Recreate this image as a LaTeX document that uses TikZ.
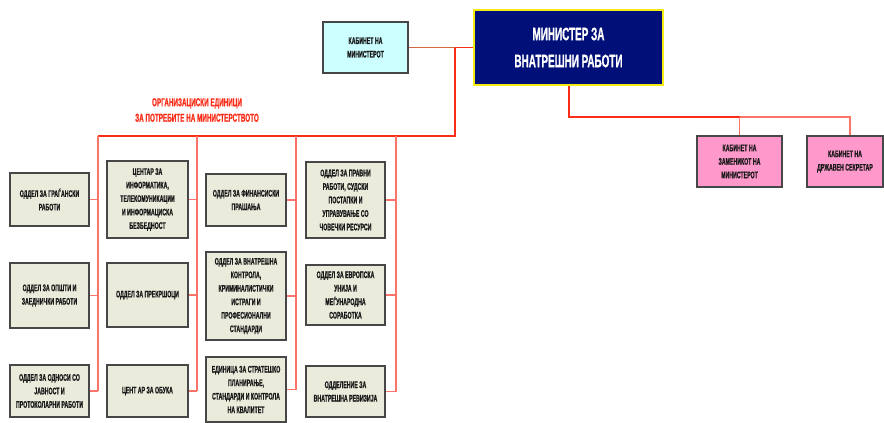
\documentclass[tikz,border=0pt]{standalone}
\usepackage{fontspec}
\newfontfamily\narrowfont{Liberation Sans}[FakeStretch=0.55,FakeBold=0.8]
\definecolor{unitfill}{RGB}{235,235,220}
\definecolor{cabfill}{RGB}{204,255,255}
\definecolor{depfill}{RGB}{255,153,204}
\definecolor{minfill}{RGB}{0,16,120}
\definecolor{minedge}{RGB}{245,235,20}
\definecolor{busred}{RGB}{250,45,25}
\definecolor{linkred}{RGB}{252,115,105}
\definecolor{cabline}{RGB}{210,105,70}
\tikzset{
  unit/.style={draw=black!72, line width=1.5pt, fill=unitfill, align=center,
    inner sep=1pt, text=black!90,
    font=\narrowfont\bfseries\fontsize{9.5}{13.5}\selectfont},
  bus/.style={draw=busred, line width=1.6pt},
  link/.style={draw=linkred, line width=1.1pt},
}

\begin{document}
\begin{tikzpicture}[x=1pt,y=-1pt]
  \useasboundingbox (0,0) rectangle (884,423);

  % Top of the chart
  \node[draw=minedge, line width=2.2pt, fill=minfill, text=white, align=center,
    minimum width=189pt, minimum height=75pt,
    font=\narrowfont\bfseries\fontsize{18}{27}\selectfont] (min) at (568.5,47.5)
    {МИНИСТЕР ЗА\\ВНАТРЕШНИ РАБОТИ};
  \node[unit, fill=cabfill, minimum width=85pt, minimum height=51pt] (cab) at (365.5,47.5)
    {КАБИНЕТ НА\\МИНИСТЕРОТ};
  \node[unit, fill=depfill, minimum width=85pt, minimum height=51pt] (dep) at (739.5,161.5)
    {КАБИНЕТ НА\\ЗАМЕНИКОТ НА\\МИНИСТЕРОТ};
  \node[unit, fill=depfill, minimum width=76pt, minimum height=51pt] (sec) at (845,161.5)
    {КАБИНЕТ НА\\ДРЖАВЕН СЕКРЕТАР};

  \node[text=busred, align=center,
    font=\narrowfont\bfseries\fontsize{11.5}{15.5}\selectfont] (title) at (197,110)
    {ОРГАНИЗАЦИСКИ ЕДИНИЦИ\\ЗА ПОТРЕБИТЕ НА МИНИСТЕРСТВОТО};

  % Organisational units
  \node[unit, minimum width=79pt, minimum height=53pt] (a1) at (49.5,199.5)
    {ОДДЕЛ ЗА ГРАЃАНСКИ\\РАБОТИ};
  \node[unit, minimum width=79pt, minimum height=65pt] (a2) at (49.5,295.5)
    {ОДДЕЛ ЗА ОПШТИ И\\ЗАЕДНИЧКИ РАБОТИ};
  \node[unit, minimum width=79pt, minimum height=52pt] (a3) at (49.5,391)
    {ОДДЕЛ ЗА ОДНОСИ СО\\ЈАВНОСТ И\\ПРОТОКОЛАРНИ РАБОТИ};

  \node[unit, minimum width=81pt, minimum height=77pt] (b1) at (147.5,199.5)
    {ЦЕНТАР ЗА\\ИНФОРМАТИКА,\\ТЕЛЕКОМУНИКАЦИИ\\И ИНФОРМАЦИСКА\\БЕЗБЕДНОСТ};
  \node[unit, minimum width=81pt, minimum height=64pt] (b2) at (147.5,295)
    {ОДДЕЛ ЗА ПРЕКРШОЦИ};
  \node[unit, minimum width=81pt, minimum height=52pt] (b3) at (147.5,391)
    {ЦЕНТ АР ЗА ОБУКА};

  \node[unit, minimum width=80pt, minimum height=52pt] (c1) at (246,200)
    {ОДДЕЛ ЗА ФИНАНСИСКИ\\ПРАШАЊА};
  \node[unit, minimum width=80pt, minimum height=88pt] (c2) at (246,296)
    {ОДДЕЛ ЗА ВНАТРЕШНА\\КОНТРОЛА,\\КРИМИНАЛИСТИЧКИ\\ИСТРАГИ И\\ПРОФЕСИОНАЛНИ\\СТАНДАРДИ};
  \node[unit, minimum width=80pt, minimum height=65pt] (c3) at (246,389.5)
    {ЕДИНИЦА ЗА СТРАТЕШКО\\ПЛАНИРАЊЕ,\\СТАНДАРДИ И КОНТРОЛА\\НА КВАЛИТЕТ};

  \node[unit, minimum width=79pt, minimum height=76pt] (d1) at (345.5,200)
    {ОДДЕЛ ЗА ПРАВНИ\\РАБОТИ, СУДСКИ\\ПОСТАПКИ И\\УПРАВУВАЊЕ СО\\ЧОВЕЧКИ РЕСУРСИ};
  \node[unit, minimum width=79pt, minimum height=60pt] (d2) at (345.5,295)
    {ОДДЕЛ ЗА ЕВРОПСКА\\УНИЈА И\\МЕЃУНАРОДНА\\СОРАБОТКА};
  \node[unit, minimum width=79pt, minimum height=51pt] (d3) at (345.5,391.5)
    {ОДДЕЛЕНИЕ ЗА\\ВНАТРЕШНА РЕВИЗИЈА};

  % Bus points
  \coordinate (join) at (455,47.5);
  \coordinate (busend) at (455,136);
  \coordinate (busa) at (98,136);
  \coordinate (busb) at (197,136);
  \coordinate (busc) at (296,136);
  \coordinate (busd) at (396,136);
  \coordinate (turn) at (569,117);
  \coordinate (depx) at (739.5,117);
  \coordinate (secx) at (850,117);

  % Lines
  \draw[draw=cabline, line width=1.4pt] (cab.east) -- (join);
  \draw[bus] (join) -- (min.west);
  \draw[bus] (join) -- (busend) -- (busa);
  \draw[bus] (min.south -| turn) -- (turn) -- (depx);
  \draw[link] (depx) -- (secx) -- (secx |- sec.north);
  \draw[link] (depx) -- (dep.north);

  \foreach \col in {a,b,c,d} {
    \draw[link] (bus\col) -- (bus\col |- \col3.east);
    \foreach \row in {1,2,3}
      \draw[link] (\col\row.east) -- (\col\row.east -| bus\col);
  }
\end{tikzpicture}
\end{document}
